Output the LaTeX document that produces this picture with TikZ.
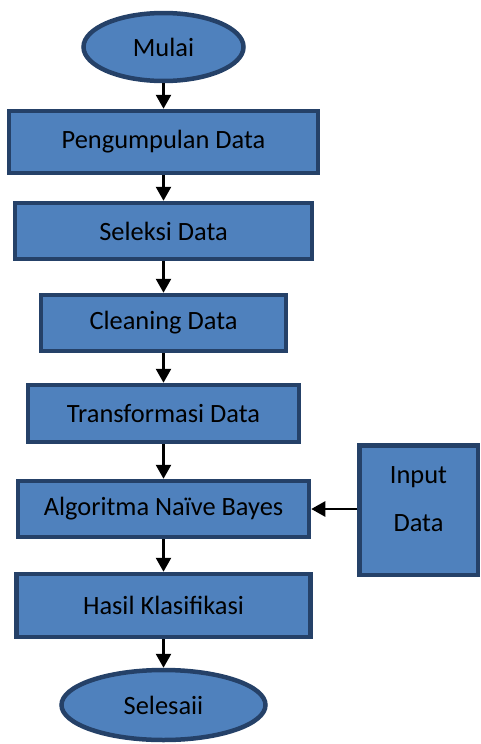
\documentclass[tikz,border=0pt]{standalone}
\usepackage{fontspec}
\setmainfont{Carlito}
\usetikzlibrary{arrows.meta,shapes.geometric}
\definecolor{boxfill}{HTML}{4F81BD}
\definecolor{boxline}{HTML}{254168}

\begin{document}
\begin{tikzpicture}[x=1pt,y=-1pt,
  box/.style={draw=boxline,fill=boxfill,line width=4.5pt,inner sep=0pt,
    font=\fontsize{26.4}{31.7}\selectfont},
  term/.style={box,ellipse},
  flow/.style={draw,line width=2.6pt,-{Triangle[width=15pt,length=14pt]}}]
\useasboundingbox (0,0) rectangle (481,744);
\node[term,minimum width=160pt,minimum height=68pt] (mulai) at (163.5,47) {Mulai};
\node[box,minimum width=309pt,minimum height=62pt] (kumpul) at (163.5,142) {Pengumpulan Data};
\node[box,minimum width=297pt,minimum height=56pt] (seleksi) at (163.5,231) {Seleksi Data};
\node[box,minimum width=245pt,minimum height=56pt] (cleaning) at (163.5,323) {Cleaning Data};
\node[box,minimum width=271pt,minimum height=57pt] (transform) at (163.5,413.5) {Transformasi Data};
\node[box,minimum width=291pt,minimum height=56pt] (naive) at (163.5,509) {Algoritma Naïve Bayes};
\node[box,minimum width=118.5pt,minimum height=129.5pt,
  label={[yshift=11pt,align=center,font=\fontsize{26.4}{31.7}\selectfont]center:Input\\[17pt]Data}]
  (input) at (418.5,510) {};
\node[box,minimum width=294pt,minimum height=63pt] (hasil) at (163.5,605.5) {Hasil Klasifikasi};
\node[term,minimum width=204pt,minimum height=70pt] (selesai) at (163.5,705) {Selesaii};
% alur
\draw[flow] (mulai) -- (kumpul);
\draw[flow] (kumpul) -- (seleksi);
\draw[flow] (seleksi) -- (cleaning);
\draw[flow] (cleaning) -- (transform);
\draw[flow] (transform) -- (naive);
\draw[flow] (input.west |- naive) -- (naive);
\draw[flow] (naive) -- (hasil);
\draw[flow] (hasil) -- (selesai);
\end{tikzpicture}
\end{document}
